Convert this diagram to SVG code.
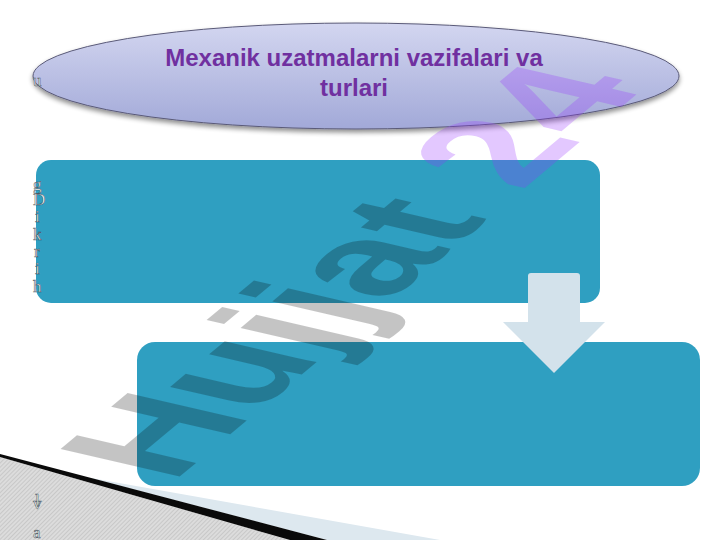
<svg xmlns="http://www.w3.org/2000/svg" width="720" height="540" viewBox="0 0 720 540">
<defs>
<style>
.box{fill:#2f9fc1;}
.title{font-family:"Liberation Sans",Arial,sans-serif;font-weight:bold;font-size:24px;fill:#7030a0;text-anchor:middle;}
.stray{font-family:"Liberation Serif","Times New Roman",serif;font-size:17px;fill:#ffffff;stroke:#2a3a48;stroke-width:0.6;stroke-opacity:0.8;}
.wm{font-family:"Liberation Sans",Arial,sans-serif;font-weight:bold;font-size:148px;}
</style>
<linearGradient id="ellGrad" x1="0" y1="0" x2="0" y2="1">
<stop offset="0" stop-color="#d3d6f0"/>
<stop offset="1" stop-color="#a2a9d8"/>
</linearGradient>
<filter id="shadow" x="-10%" y="-30%" width="120%" height="170%">
<feGaussianBlur in="SourceAlpha" stdDeviation="2.5"/>
<feOffset dx="0" dy="3" result="b"/>
<feComponentTransfer><feFuncA type="linear" slope="0.45"/></feComponentTransfer>
<feMerge><feMergeNode/><feMergeNode in="SourceGraphic"/></feMerge>
</filter>
<pattern id="hatch" width="3" height="3" patternUnits="userSpaceOnUse" patternTransform="rotate(45)">
<rect width="3" height="3" fill="#dcdcdc"/>
<rect width="1" height="3" fill="#c8c8c8"/>
</pattern>
</defs>
<rect width="720" height="540" fill="#ffffff"/>

<g id="n-title">
<ellipse cx="356" cy="76" rx="323" ry="53" fill="url(#ellGrad)" stroke="#5a5a78" stroke-width="1" filter="url(#shadow)"/>
<text class="title" x="354" y="66">Mexanik uzatmalarni vazifalari va</text>
<text class="title" x="354" y="96">turlari</text>
</g>

<g id="n-box1">
<rect class="box" x="36" y="160" width="564" height="143" rx="15"/>
</g>

<g id="n-box2">
<rect class="box" x="137" y="342" width="563" height="144" rx="18"/>
</g>

<g id="connectors">
<path d="M531,273 H577 Q580,273 580,276 V322 H605 L554,373 L503,322 H528 V276 Q528,273 531,273 Z" fill="#d3e2eb"/>
</g>

<g id="watermark" transform="matrix(0.771,-0.645,1.17,0.27,172,483)">
<text class="wm" x="0" y="0"><tspan fill="#000000" fill-opacity="0.23">Hujjat </tspan><tspan fill="#9933ff" fill-opacity="0.27">24</tspan></text>
</g>

<g id="corner">
<polygon points="0,457 290,540 0,540" fill="url(#hatch)"/>
<polygon points="88,477.5 440,540 327,540" fill="#dde8ef"/>
<polygon points="0,454 327,540 290,540 0,457" fill="#0a0a0a"/>
</g>

<g id="stray-text">
<text class="stray" x="33" y="86">u</text>
<text class="stray" x="33" y="190">g</text>
<text class="stray" x="33" y="205">D</text>
<text class="stray" x="35" y="222">i</text>
<text class="stray" x="33" y="240">k</text>
<text class="stray" x="34" y="257">r</text>
<text class="stray" x="35" y="274">i</text>
<text class="stray" x="33" y="292">h</text>
<text class="stray" x="35" y="506">l</text>
<text class="stray" x="33" y="509">v</text>
<text class="stray" x="33" y="538">a</text>
</g>
</svg>
